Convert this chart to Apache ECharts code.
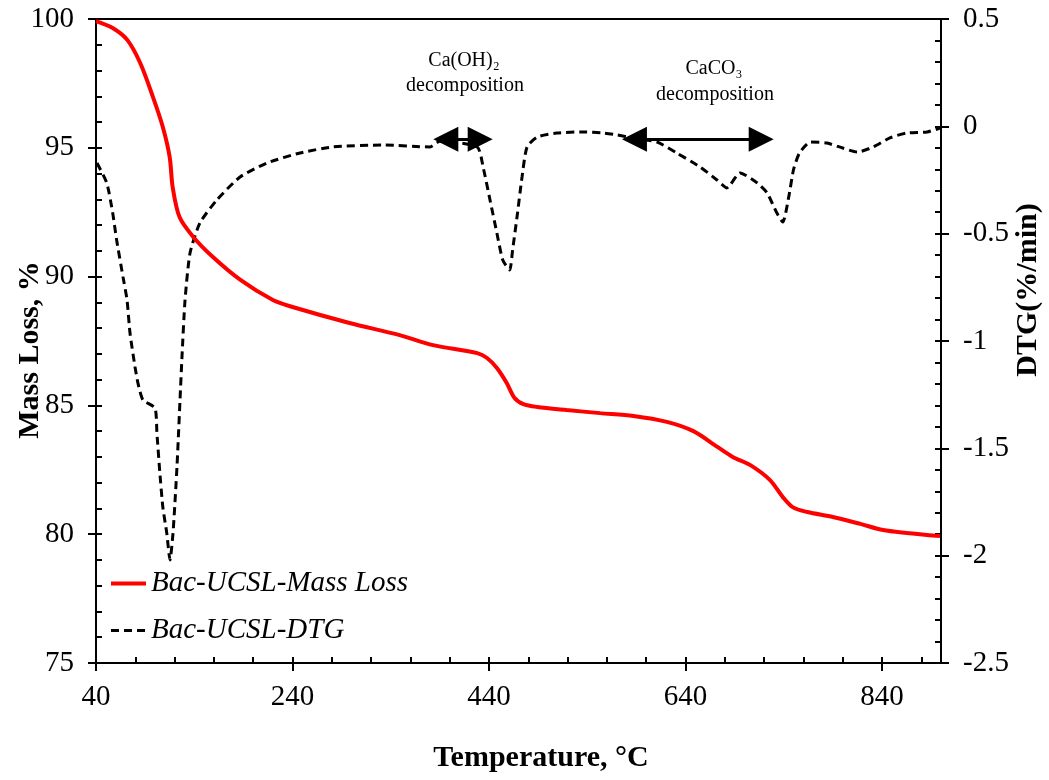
<!DOCTYPE html>
<html>
<head>
<meta charset="utf-8">
<script src="https://cdn.jsdelivr.net/npm/echarts@6/dist/echarts.min.js"></script>
<style>
html,body{margin:0;padding:0;background:#fff;}
#chart{width:1049px;height:780px;}
</style>
</head>
<body>
<div id="chart"></div>
<script>
// ---- Data ----
const massT = [40, 57, 72, 85, 98, 108, 115, 118, 125, 139, 159, 187, 220, 240, 298, 349, 383, 428, 438, 448, 458, 466, 475, 489, 519, 553, 587, 621, 648, 672, 688, 706, 726, 739, 749, 764, 790, 818, 841, 865, 899];
const massVal = [99.92, 99.65, 99.18, 98.29, 96.97, 95.81, 94.64, 93.48, 92.31, 91.54, 90.76, 89.87, 89.09, 88.82, 88.2, 87.73, 87.34, 87.03, 86.84, 86.45, 85.87, 85.29, 85.05, 84.94, 84.82, 84.7, 84.59, 84.36, 84.0, 83.4, 83.0, 82.68, 82.1, 81.44, 81.05, 80.86, 80.67, 80.4, 80.16, 80.05, 79.93];

const dtgT = [41, 51, 57, 61, 67.5, 71.6, 74.6, 79.7, 82.7, 87.8, 100, 102, 105, 108, 112, 115.3, 118.4, 122.4, 125.5, 127.5, 130.6, 135.7, 145.8, 163, 186.6, 214, 247.6, 281, 332, 380, 390, 428, 434, 441, 448, 454, 461, 464, 468.5, 473.6, 478.7, 489, 509, 536, 556, 570, 587, 611, 631, 655, 672, 682, 695.5, 713, 723, 733, 739, 745, 750, 756, 767, 784, 800, 815, 831, 848, 865, 886, 899];
const dtgVal = [-0.171, -0.264, -0.404, -0.53, -0.702, -0.809, -0.963, -1.121, -1.196, -1.275, -1.312, -1.429, -1.615, -1.773, -1.894, -2.02, -1.894, -1.587, -1.275, -1.075, -0.81, -0.59, -0.45, -0.343, -0.236, -0.171, -0.124, -0.096, -0.087, -0.096, -0.07, -0.096, -0.19, -0.343, -0.497, -0.623, -0.669, -0.576, -0.422, -0.236, -0.096, -0.05, -0.031, -0.026, -0.031, -0.04, -0.054, -0.073, -0.124, -0.19, -0.25, -0.287, -0.217, -0.264, -0.31, -0.404, -0.446, -0.33, -0.2, -0.124, -0.073, -0.078, -0.101, -0.12, -0.096, -0.054, -0.031, -0.026, -0.008];

const seriesNames = ['Bac-UCSL-Mass Loss', 'Bac-UCSL-DTG'];
const xMajorTicks = [40, 240, 440, 640, 840];
const leftMajorTicks = [75, 80, 85, 90, 95, 100];
const rightMajorTicks = [-2.5, -2, -1.5, -1, -0.5, 0, 0.5];

// annotation arrows (data coords: [x start, x end], y level on DTG axis)
const arrowCaOH2 = [396, 431];
const arrowCaCO3 = [588, 717];
const arrowLevel = -0.06;

const FONT = "'Liberation Serif','Times New Roman',serif";

function pairs(xs, ys){ return xs.map((x,i)=>[x, ys[i]]); }
const isMajor = (v, list) => list.some(t => Math.abs(t - v) < 1e-6);

const chart = echarts.init(document.getElementById('chart'), null, {renderer:'canvas'});
const black = '#000';
const tri = 'path://M50,0 L100,100 L0,100 Z';

const option = {
  animation: false,
  backgroundColor: '#fff',
  grid: {left: 96, right: 108, top: 19, bottom: 117, show: true, borderColor: black, borderWidth: 2, backgroundColor: 'transparent'},
  legend: {
    left: 104, top: 564, orient: 'vertical', itemWidth: 35, itemHeight: 14, itemGap: 18,
    itemStyle: {opacity: 0},
    textStyle: {fontSize: 29, fontStyle: 'italic', fontFamily: FONT, color: black},
    data: [
      {name: seriesNames[0], lineStyle: {width: 4, color: '#ff0000'}},
      {name: seriesNames[1], lineStyle: {width: 3, color: black, type: [8, 5]}}
    ]
  },
  xAxis: [
    {
      type: 'value', min: 40, max: 900, interval: 40, position: 'bottom',
      axisLine: {show: true, onZero: false, lineStyle: {color: black, width: 2}},
      axisTick: {show: true, inside: true, length: 6, lineStyle: {color: black, width: 2}},
      axisLabel: {fontSize: 29, fontFamily: FONT, color: black, margin: 20,
        formatter: v => isMajor(v, xMajorTicks) ? String(v) : ''},
      splitLine: {show: false}
    },
    {
      type: 'value', min: 40, max: 900, interval: 200, position: 'bottom',
      axisLine: {show: false, onZero: false},
      axisTick: {show: true, inside: false, length: 8, lineStyle: {color: black, width: 2}, customValues: xMajorTicks},
      axisLabel: {show: false},
      splitLine: {show: false}
    }
  ],
  yAxis: [
    {
      type: 'value', min: 75, max: 100, interval: 1, position: 'left',
      axisLine: {show: true, onZero: false, lineStyle: {color: black, width: 2}},
      axisTick: {show: true, inside: true, length: 6, lineStyle: {color: black, width: 2}},
      axisLabel: {fontSize: 29, fontFamily: FONT, color: black, margin: 22,
        formatter: v => isMajor(v, leftMajorTicks) ? String(v) : ''},
      splitLine: {show: false}
    },
    {
      type: 'value', min: -2.5, max: 0.5, interval: 0.1, position: 'right',
      axisLine: {show: true, onZero: false, lineStyle: {color: black, width: 2}},
      axisTick: {show: true, inside: true, length: 6, lineStyle: {color: black, width: 2}},
      axisLabel: {fontSize: 29, fontFamily: FONT, color: black, margin: 22,
        formatter: v => isMajor(v, rightMajorTicks) ? String(Math.round(v*10)/10) : ''},
      splitLine: {show: false}
    },
    {
      type: 'value', min: 75, max: 100, interval: 5, position: 'left',
      axisLine: {show: false, onZero: false},
      axisTick: {show: true, inside: false, length: 8, lineStyle: {color: black, width: 2}},
      axisLabel: {show: false}, splitLine: {show: false}
    },
    {
      type: 'value', min: -2.5, max: 0.5, interval: 0.5, position: 'right',
      axisLine: {show: false, onZero: false},
      axisTick: {show: true, inside: false, length: 8, lineStyle: {color: black, width: 2}},
      axisLabel: {show: false}, splitLine: {show: false}
    }
  ],
  series: [
    {
      name: seriesNames[0], type: 'line', xAxisIndex: 0, yAxisIndex: 0,
      data: pairs(massT, massVal), symbol: 'none', smooth: 0.3,
      lineStyle: {color: '#ff0000', width: 4}, itemStyle: {color: '#ff0000'}, z: 3
    },
    {
      name: seriesNames[1], type: 'line', xAxisIndex: 0, yAxisIndex: 1,
      data: pairs(dtgT, dtgVal), symbol: 'none', smooth: 0.2,
      lineStyle: {color: black, width: 3, type: [8, 5]}, itemStyle: {color: black}, z: 2,
      markLine: {
        silent: true, symbol: [tri, tri], symbolSize: 25, symbolKeepAspect: true,
        label: {show: false},
        lineStyle: {color: black, width: 3, type: 'solid'},
        emphasis: {disabled: true},
        data: [
          [{coord: [arrowCaOH2[0], arrowLevel]}, {coord: [arrowCaOH2[1], arrowLevel]}],
          [{coord: [arrowCaCO3[0], arrowLevel]}, {coord: [arrowCaCO3[1], arrowLevel]}]
        ]
      }
    }
  ],
  graphic: [
    {type: 'text', x: 30, y: 350, rotation: Math.PI/2,
      style: {text: 'Mass Loss, %', font: "bold 30px " + FONT, fill: black, textAlign: 'center', textVerticalAlign: 'middle'}},
    {type: 'text', x: 1028, y: 290, rotation: Math.PI/2,
      style: {text: 'DTG(%/min)', font: "bold 30px " + FONT, fill: black, textAlign: 'center', textVerticalAlign: 'middle'}},
    {type: 'text', x: 541, y: 758,
      style: {text: 'Temperature, °C', font: "bold 30px " + FONT, fill: black, textAlign: 'center', textVerticalAlign: 'middle'}},
    {type: 'text', x: 464, y: 61,
      style: {text: 'Ca(OH)₂', font: "20px " + FONT, fill: black, textAlign: 'center', textVerticalAlign: 'middle'}},
    {type: 'text', x: 465, y: 86,
      style: {text: 'decomposition', font: "20px " + FONT, fill: black, textAlign: 'center', textVerticalAlign: 'middle'}},
    {type: 'text', x: 714, y: 69,
      style: {text: 'CaCO₃', font: "20px " + FONT, fill: black, textAlign: 'center', textVerticalAlign: 'middle'}},
    {type: 'text', x: 715, y: 95,
      style: {text: 'decomposition', font: "20px " + FONT, fill: black, textAlign: 'center', textVerticalAlign: 'middle'}}
  ]
};
chart.setOption(option);
</script>
</body>
</html>
